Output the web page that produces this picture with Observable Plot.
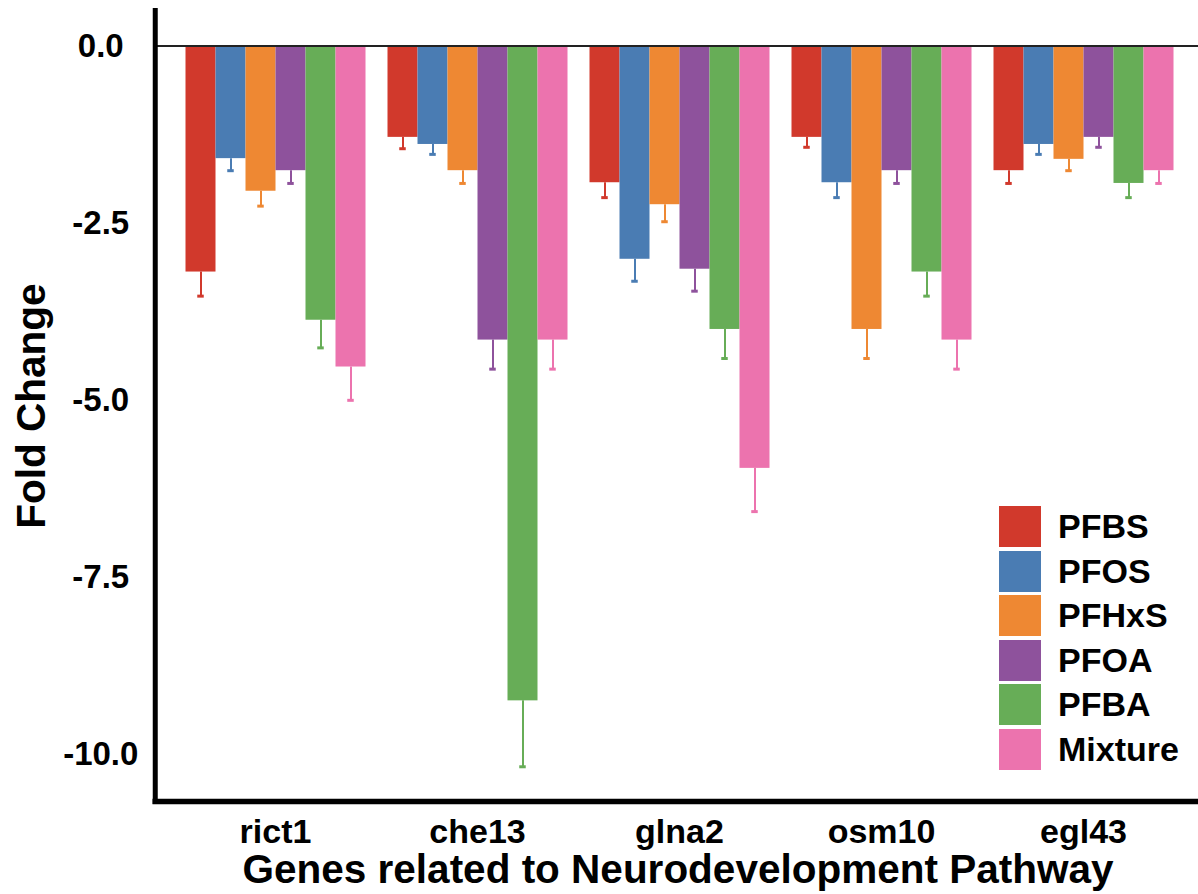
<!DOCTYPE html>
<html><head><meta charset="utf-8">
<script src="https://cdn.jsdelivr.net/npm/d3@7"></script>
<script src="https://cdn.jsdelivr.net/npm/@observablehq/plot@0.6"></script>
<style>
body{margin:0;background:#fff;font-family:"Liberation Sans",Arial,sans-serif;}
#wrap{position:relative;width:1198px;height:894px;}
#legend{position:absolute;left:999px;top:506px;}
.item{display:flex;align-items:center;height:41px;margin-bottom:3.5px;}
.sw{width:42px;height:41px;margin-right:17px;}
.lb{font-weight:bold;font-size:34px;color:#000;line-height:41px;}
</style></head><body><div id="wrap"></div>
<script>
const genes = ["rict1", "che13", "glna2", "osm10", "egl43"];
const series = ["PFBS", "PFOS", "PFHxS", "PFOA", "PFBA", "Mixture"];
const colors = ["#D1392C", "#4A7CB3", "#EE8833", "#8E529C", "#67AD57", "#EC73AE"];
// values per series, in gene order
const pfbs    = [-3.19, -1.29, -1.93, -1.29, -1.76];
const pfos    = [-1.59, -1.39, -3.01, -1.93, -1.39];
const pfhxs   = [-2.05, -1.76, -2.24, -4.00, -1.60];
const pfoa    = [-1.76, -4.15, -3.15, -1.76, -1.29];
const pfba    = [-3.87, -9.24, -4.00, -3.19, -1.94];
const mixture = [-4.53, -4.15, -5.96, -4.15, -1.76];
// error (SE) per series, in gene order
const pfbsErr    = [0.34, 0.16, 0.21, 0.14, 0.18];
const pfosErr    = [0.17, 0.14, 0.31, 0.21, 0.14];
const pfhxsErr   = [0.21, 0.18, 0.24, 0.41, 0.16];
const pfoaErr    = [0.18, 0.41, 0.31, 0.18, 0.14];
const pfbaErr    = [0.39, 0.93, 0.41, 0.34, 0.20];
const mixtureErr = [0.47, 0.41, 0.61, 0.41, 0.18];
const yTicks = [0, -2.5, -5, -7.5, -10];
const yDomain = [-10.66, 0.5];
const xTitle = "Genes related to Neurodevelopment Pathway";
const yTitle = "Fold Change";

const values = [pfbs, pfos, pfhxs, pfoa, pfba, mixture];
const errors = [pfbsErr, pfosErr, pfhxsErr, pfoaErr, pfbaErr, mixtureErr];
const data = [];
genes.forEach((g, gi) => series.forEach((s, si) => data.push({gene: g, series: s, value: values[si][gi], err: errors[si][gi]})));

const plot = Plot.plot({
  width: 1198, height: 894,
  marginTop: 10, marginBottom: 93, marginLeft: 154.5, marginRight: 0,
  facet: {marginTop: 0, marginRight: 0, marginBottom: 0, marginLeft: 0},
  style: {fontFamily: "Liberation Sans, Arial, sans-serif", fontWeight: "bold", color: "#000", background: "#fff"},
  fx: {domain: genes, range: [173.75, 1185], paddingInner: 0, paddingOuter: 0},
  x: {domain: series, paddingInner: 0, paddingOuter: 0.3156, axis: null},
  y: {domain: yDomain},
  color: {domain: series, range: colors},
  marks: [
    Plot.barY(data, {fx: "gene", x: "series", y: "value", fill: "series"}),
    Plot.ruleX(data, {fx: "gene", x: "series", y1: "value", y2: d => d.value - d.err, stroke: "series", strokeWidth: 2}),
    Plot.tickY(data, {fx: "gene", x: "series", y: d => d.value - d.err, stroke: "series", strokeWidth: 3, insetLeft: 11.75, insetRight: 11.75}),
    Plot.ruleY([0], {stroke: "#222", strokeWidth: 2, insetLeft: -20, insetRight: -16}),
    Plot.frame({facet: "super", anchor: "left", stroke: "#000", strokeWidth: 5, strokeLinecap: "square", insetLeft: -19.25}),
    Plot.frame({facet: "super", anchor: "bottom", stroke: "#000", strokeWidth: 5.5, strokeLinecap: "square", insetLeft: -19.25, insetRight: -16}),
    Plot.axisY(yTicks, {tickFormat: d => d.toFixed(1), tickSize: 0, tickPadding: 73.75, textAnchor: "middle", fontSize: 33, label: null}),
    Plot.axisFx({anchor: "bottom", tickSize: 0, tickPadding: 17, fontSize: 34, label: null}),
    Plot.text([xTitle], {facet: "super", text: d => d, frameAnchor: "bottom", lineAnchor: "bottom", dy: 81, dx: -1.5, fontSize: 40.5, fontWeight: "bold"}),
    Plot.text([yTitle], {facet: "super", text: d => d, frameAnchor: "left", textAnchor: "middle", lineAnchor: "bottom", rotate: -90, dx: -129.75, fontSize: 40.5, fontWeight: "bold"})
  ]
});
const wrap = document.getElementById("wrap");
wrap.appendChild(plot);

// legend built from the color scale
const color = plot.scale("color");
const legend = document.createElement("div");
legend.id = "legend";
color.domain.forEach((s, i) => {
  const item = document.createElement("div");
  item.className = "item";
  const sw = document.createElement("div");
  sw.className = "sw";
  sw.style.background = color.range[i];
  const lb = document.createElement("span");
  lb.className = "lb";
  lb.textContent = s;
  item.appendChild(sw); item.appendChild(lb);
  legend.appendChild(item);
});
wrap.appendChild(legend);
</script>
</body></html>
